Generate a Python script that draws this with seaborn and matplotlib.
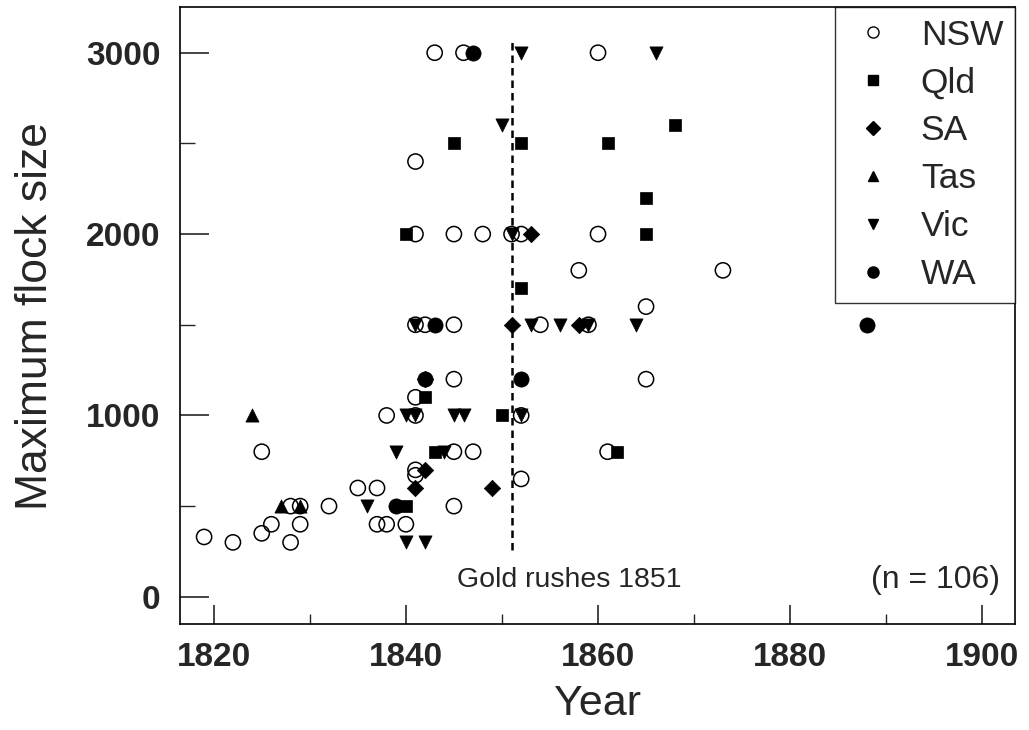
import numpy as np
import pandas as pd
import matplotlib
matplotlib.use("Agg")
import matplotlib.pyplot as plt
from matplotlib.lines import Line2D
from matplotlib.ticker import MultipleLocator
import seaborn as sns

# -------------------
# DATA
# -------------------
nsw_year = [1819, 1822, 1825, 1825, 1826, 1828, 1828, 1829, 1829, 1832, 1835, 1837,
            1837, 1838, 1840, 1838, 1841, 1841, 1841, 1841, 1841, 1842, 1845, 1845,
            1845, 1847, 1845, 1852, 1852, 1843, 1846, 1860, 1841, 1841, 1845, 1848,
            1851, 1852, 1860, 1858, 1873, 1865, 1854, 1859, 1865, 1861]
nsw_size = [330, 300, 350, 800, 400, 500, 300, 500, 400, 500, 600, 600,
            400, 400, 400, 1000, 1000, 700, 670, 1100, 1500, 1500, 1500, 1200,
            800, 800, 500, 650, 1000, 3000, 3000, 3000, 2400, 2000, 2000, 2000,
            2000, 2000, 2000, 1800, 1800, 1600, 1500, 1500, 1200, 800]

qld_year = [1840, 1842, 1843, 1850, 1840, 1845, 1852, 1861, 1868, 1865, 1865, 1852, 1862]
qld_size = [500, 1100, 800, 1000, 2000, 2500, 2500, 2500, 2600, 2200, 2000, 1700, 800]

sa_year = [1841, 1842, 1842, 1849, 1851, 1853, 1858]
sa_size = [600, 700, 1200, 600, 1500, 2000, 1500]

tas_year = [1824, 1827, 1829]
tas_size = [1000, 500, 500]

vic_year = [1836, 1839, 1840, 1840, 1841, 1841, 1842, 1844, 1845, 1846, 1850, 1851,
            1852, 1866, 1852, 1853, 1856, 1859, 1864]
vic_size = [500, 800, 1000, 300, 1000, 1500, 300, 800, 1000, 1000, 2600, 2000,
            3000, 3000, 1000, 1500, 1500, 1500, 1500]

wa_year = [1839, 1842, 1843, 1847, 1852, 1888]
wa_size = [500, 1200, 1500, 3000, 1200, 1500]

states = ["NSW", "Qld", "SA", "Tas", "Vic", "WA"]
gold_rush_year = 1851

df = pd.concat([
    pd.DataFrame({"Year": nsw_year, "Size": nsw_size, "State": "NSW"}),
    pd.DataFrame({"Year": qld_year, "Size": qld_size, "State": "Qld"}),
    pd.DataFrame({"Year": sa_year, "Size": sa_size, "State": "SA"}),
    pd.DataFrame({"Year": tas_year, "Size": tas_size, "State": "Tas"}),
    pd.DataFrame({"Year": vic_year, "Size": vic_size, "State": "Vic"}),
    pd.DataFrame({"Year": wa_year, "Size": wa_size, "State": "WA"}),
], ignore_index=True)

# -------------------
# STYLE
# -------------------
sns.set_style("white")
plt.rcParams["font.family"] = ["Liberation Sans", "DejaVu Sans"]

marker_map = {"NSW": "o", "Qld": "s", "SA": "D", "Tas": "^", "Vic": "v", "WA": "o"}
size_map = {"NSW": 120, "Qld": 70, "SA": 70, "Tas": 90, "Vic": 90, "WA": 120}

fig = plt.figure(figsize=(10.29, 7.30), dpi=100)
ax = fig.add_axes([0.175, 0.1452, 0.8114, 0.8452])

# -------------------
# SCATTER
# -------------------
for st in states:
    sub = df[df["State"] == st]
    if st == "NSW":
        sns.scatterplot(data=sub, x="Year", y="Size", marker=marker_map[st],
                        s=size_map[st], facecolor="none", edgecolor="black",
                        linewidth=1.1, ax=ax, legend=False, zorder=3)
    else:
        sns.scatterplot(data=sub, x="Year", y="Size", marker=marker_map[st],
                        s=size_map[st], color="black", edgecolor="black",
                        linewidth=0.5, ax=ax, legend=False, zorder=4)

ax.plot([gold_rush_year, gold_rush_year], [260, 3080], ls=(0, (3, 2)),
        color="black", lw=1.8, zorder=2)
ax.text(1857, 92, "Gold rushes 1851", ha="center", va="center", fontsize=20.5)
ax.text(1901.8, 92, "(n = 106)", ha="right", va="center", fontsize=23)

# -------------------
# AXES
# -------------------
ax.set_xlim(1816.5, 1903.4)
ax.set_ylim(-150, 3252)
ax.xaxis.set_major_locator(MultipleLocator(20))
ax.xaxis.set_minor_locator(MultipleLocator(10))
ax.yaxis.set_major_locator(MultipleLocator(1000))
ax.yaxis.set_minor_locator(MultipleLocator(500))

ax.tick_params(axis="y", which="major", direction="in", length=21, width=1.2,
               pad=14, labelsize=24)
ax.tick_params(axis="y", which="minor", direction="in", length=11, width=1.0)
ax.tick_params(axis="x", which="major", direction="in", length=14, width=1.2,
               pad=13, labelsize=24)
ax.tick_params(axis="x", which="minor", direction="in", length=7, width=1.0)
ax.tick_params(left=True, bottom=True, which="both")
for lab in ax.get_xticklabels() + ax.get_yticklabels():
    lab.set_fontweight("bold")

for side in ["left", "bottom", "top", "right"]:
    ax.spines[side].set_visible(True)
    ax.spines[side].set_color("black")
    ax.spines[side].set_linewidth(1.2)

ax.set_xlabel("Year", fontsize=31, labelpad=8)
ax.set_ylabel("Maximum flock size", fontsize=32, labelpad=22)

# -------------------
# LEGEND
# -------------------
handles = []
for st in states:
    if st == "NSW":
        h = Line2D([], [], ls="none", marker="o", markersize=8, mfc="white",
                   mec="black", mew=1.0)
    else:
        h = Line2D([], [], ls="none", marker=marker_map[st],
                   markersize=8 if st == "WA" else 7,
                   mfc="black", mec="black")
    handles.append(h)

leg = ax.legend(handles, states, loc="upper right", fontsize=25.5, frameon=True,
                fancybox=False, borderaxespad=0, edgecolor="black",
                handlelength=1.5, handletextpad=0.6, labelspacing=0.42,
                borderpad=0.33)
leg.get_frame().set_linewidth(1.0)

fig.savefig("out.png", dpi=100)
